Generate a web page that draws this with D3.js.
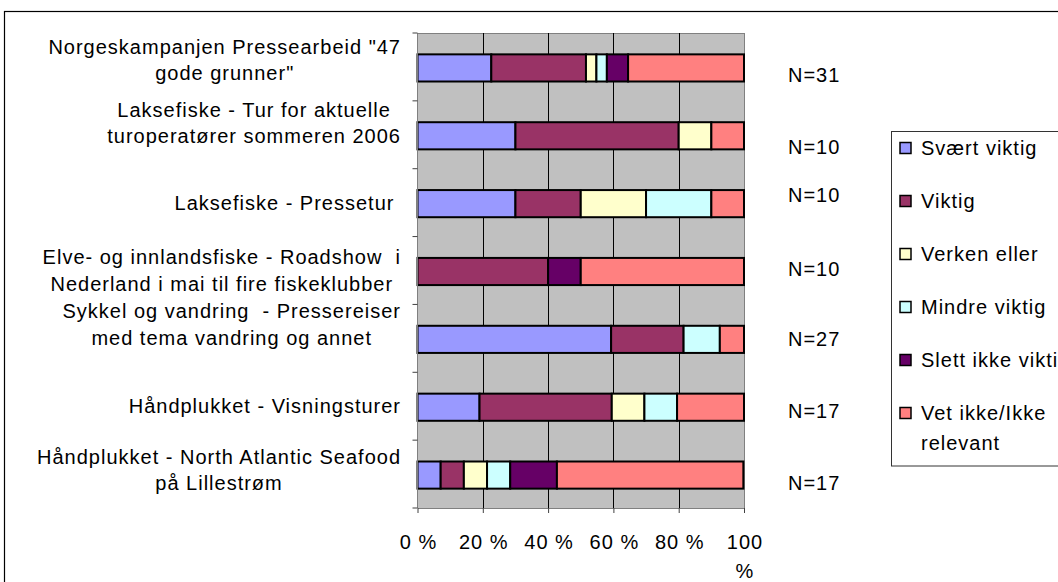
<!DOCTYPE html>
<html><head><meta charset="utf-8">
<script src="https://cdn.jsdelivr.net/npm/d3@7"></script>
<style>
body{margin:0;background:#fff;}
svg{display:block;font-family:"Liberation Sans",Arial,sans-serif;}
text{letter-spacing:1px;white-space:pre;}
</style>
</head><body>
<svg id="c" width="1058" height="582"></svg>
<script>
// ---------- data ----------
const categories = [
  "Norgeskampanjen Pressearbeid \"47\ngode grunner\"",
  "Laksefiske - Tur for aktuelle\nturoperatører sommeren 2006",
  "Laksefiske - Pressetur ",
  "Elve- og innlandsfiske - Roadshow  i\nNederland i mai til fire fiskeklubber",
  "Sykkel og vandring  - Pressereiser\nmed tema vandring og annet",
  "Håndplukket - Visningsturer",
  "Håndplukket - North Atlantic Seafood\npå Lillestrøm"
];
const seriesNames = ["Svært viktig","Viktig","Verken eller","Mindre viktig","Slett ikke viktig","Vet ikke/Ikke\nrelevant"];
const svaertViktig = [22.6, 30, 30, 0, 59.3, 19, 7.1];
const viktig       = [29.0, 50, 20, 40, 22.2, 40.5, 7.1];
const verkenEller  = [3.2, 10, 20, 0, 0, 10, 7.1];
const mindreViktig = [3.2, 0, 20, 0, 11.1, 10, 7.1];
const slettIkke    = [6.5, 0, 0, 10, 0, 0, 14.3];
const vetIkke      = [35.5, 10, 10, 50, 7.4, 20.5, 57.1];
const nLabels = ["N=31","N=10","N=10","N=10","N=27","N=17","N=17"];
const xTicks = [0, 20, 40, 60, 80, 100];
const xTickLabels = ["0 %", "20 %", "40 %", "60 %", "80 %", "100\n%"];

// ---------- style / layout ----------
const colors = ["#9999FF","#993366","#FFFFCC","#CCFFFF","#660066","#FF8080"];
const labelShift = [-7, -12, 0, 0, -14, 0, -4];   // vertical placement of category text blocks
const nShift = [8, 12, -8, -2, 1, 5, 9];           // vertical placement of N= notes
const fontSize = 20;

const svg = d3.select("#c");
// outer chart frame
svg.append("rect").attr("x",4.5).attr("y",11.5).attr("width",1100).attr("height",620)
  .attr("fill","#fff").attr("stroke","#000").attr("stroke-width",1.2);

const plotTop = 33, plotBot = 508;
const x = d3.scaleLinear().domain([0,100]).range([417.5, 744]);
const y = d3.scaleBand().domain(d3.range(categories.length)).range([plotTop, plotBot])
  .paddingInner(0.6).paddingOuter(0.3);
const step = y.step();

// plot area
svg.append("rect").attr("x",x(0)).attr("y",plotTop).attr("width",x(100)-x(0)).attr("height",plotBot-plotTop)
  .attr("fill","#C0C0C0");
svg.append("line").attr("x1",x(0)).attr("x2",x(100)).attr("y1",plotTop+0.5).attr("y2",plotTop+0.5)
  .attr("stroke","#808080");
// gridlines
svg.append("g").selectAll("line").data(xTicks.filter(d=>d>0)).join("line")
  .attr("x1",d=>Math.round(x(d))+0.5).attr("x2",d=>Math.round(x(d))+0.5)
  .attr("y1",plotTop).attr("y2",plotBot)
  .attr("stroke",d=>d===100?"#808080":"#000").attr("stroke-width",1);

// bars
const rows = categories.map((c,i)=>({i, s0:svaertViktig[i], s1:viktig[i], s2:verkenEller[i], s3:mindreViktig[i], s4:slettIkke[i], s5:vetIkke[i]}));
const keys = ["s0","s1","s2","s3","s4","s5"];
const stacked = d3.stack().keys(keys)(rows);
const gBars = svg.append("g");
stacked.forEach((layer,k)=>{
  gBars.selectAll(null).data(layer.filter(d=>d[1]-d[0]>0)).join("rect")
    .attr("x",d=>x(d[0])).attr("width",d=>x(d[1])-x(d[0]))
    .attr("y",d=>y(d.data.i)+1).attr("height",y.bandwidth())
    .attr("fill",colors[k]).attr("stroke","#000").attr("stroke-width",2);
});

// x axis
const xAxis = svg.append("g").attr("transform",`translate(0,${plotBot})`)
  .call(d3.axisBottom(x).tickValues(xTicks).tickSize(5).tickSizeOuter(0).tickFormat(""));
xAxis.select(".domain").attr("stroke","#808080");
xAxis.selectAll(".tick line").attr("stroke","#404040");
const xl = svg.append("g").attr("font-size",fontSize).attr("fill","#000");
xTicks.forEach((t,i)=>{
  const lines = xTickLabels[i].split("\n");
  const tx = xl.append("text").attr("text-anchor","middle").attr("x",x(t)+1).attr("y",549);
  lines.forEach((ln,j)=>tx.append("tspan").attr("x",x(t)+1).attr("dy",j?29:0).text(ln));
});

// y axis
svg.append("line").attr("x1",x(0)).attr("x2",x(0)).attr("y1",plotTop).attr("y2",plotBot).attr("stroke","#808080");
const bounds = d3.range(categories.length+1).map(i=>plotTop+i*step);
svg.append("g").selectAll("line").data(bounds).join("line")
  .attr("x1",x(0)-5).attr("x2",x(0)).attr("y1",d=>d).attr("y2",d=>d).attr("stroke","#404040");

// category labels
const gl = svg.append("g").attr("font-size",fontSize).attr("fill","#000");
categories.forEach((c,i)=>{
  const lines = c.split("\n");
  const widths = lines.map(ln=>{const t=gl.append("text").text(ln); const w=t.node().getComputedTextLength(); t.remove(); return w;});
  const maxW = d3.max(widths);
  const cx = 401 - maxW/2;
  const lh = 26.5;
  const center = y(i)+y.bandwidth()/2 + labelShift[i];
  const y0 = center - (lines.length-1)*lh/2 + 7;
  lines.forEach((ln,j)=>{
    gl.append("text").attr("text-anchor","middle").attr("x",cx).attr("y",y0+j*lh).text(ln);
  });
});

// N labels
svg.append("g").attr("font-size",fontSize).attr("fill","#000")
  .selectAll("text").data(nLabels).join("text")
  .attr("x",788).attr("y",(d,i)=>y(i)+y.bandwidth()/2+nShift[i]+7).text(d=>d);

// legend
const lg = svg.append("g");
lg.append("rect").attr("x",891.5).attr("y",131.5).attr("width",200).attr("height",334.5)
  .attr("fill","#fff").attr("stroke","#333").attr("stroke-width",1);
seriesNames.forEach((s,i)=>{
  const cy = 148 + i*53;
  lg.append("rect").attr("x",900).attr("y",cy-5.5).attr("width",11).attr("height",11)
    .attr("fill",colors[i]).attr("stroke","#000").attr("stroke-width",1.5);
  const t = lg.append("text").attr("x",921).attr("y",cy+7).attr("font-size",fontSize);
  s.split("\n").forEach((ln,j)=>t.append("tspan").attr("x",921).attr("dy",j?30:0).text(ln));
});
</script>
</body></html>
